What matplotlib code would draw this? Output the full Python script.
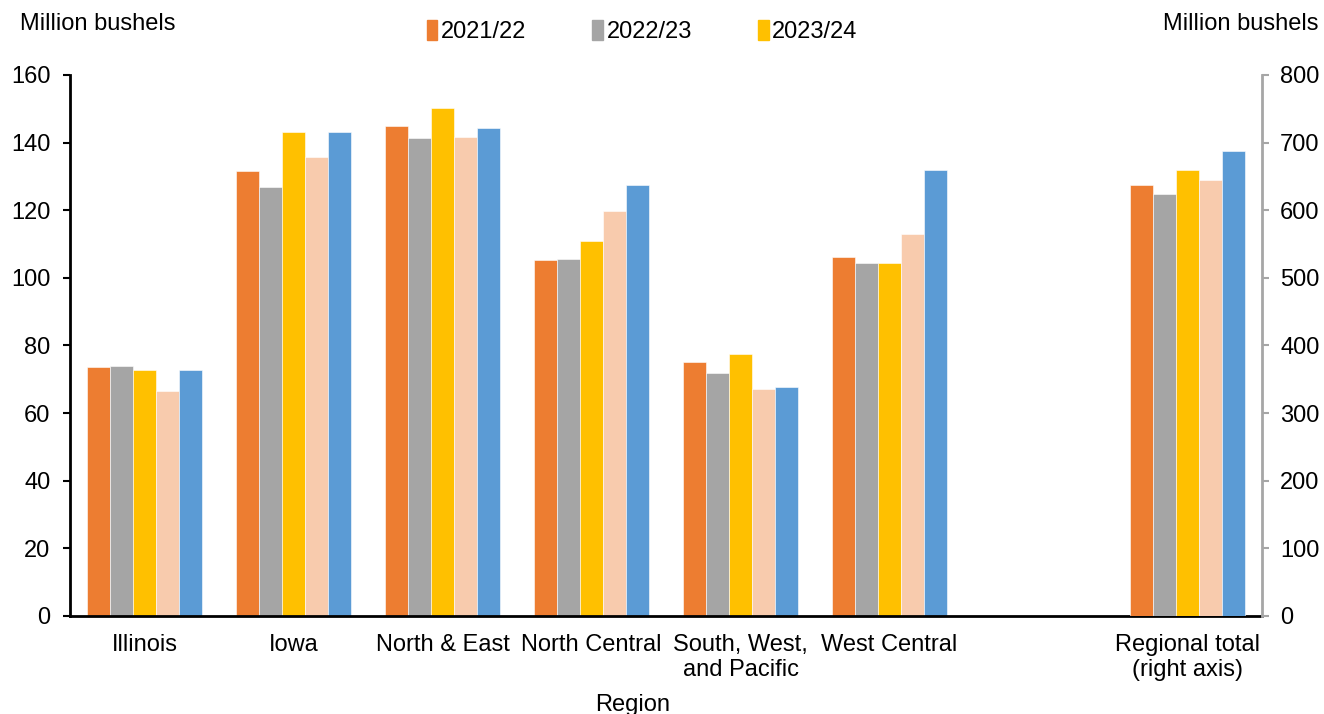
import matplotlib
matplotlib.use('Agg')
import matplotlib.pyplot as plt
from matplotlib.patches import Patch
import numpy as np

plt.rcParams['font.family'] = ['Liberation Sans', 'DejaVu Sans']

# regions on the left axis, regional total on the right axis
regions = ['Illinois', 'Iowa', 'North & East', 'North Central',
           'South, West,\nand Pacific', 'West Central', '', 'Regional total\n(right axis)']
years = ['2021/22', '2022/23', '2023/24', '2024/25', '2025/26']
colors = ['#ED7D31', '#A5A5A5', '#FFC000', '#F8CBAD', '#5B9BD5']

s2122 = [73.7, 131.7, 144.9, 105.4, 75.0, 106.2]
s2223 = [73.9, 126.8, 141.3, 105.6, 72.0, 104.3]
s2324 = [72.8, 143.1, 150.3, 110.9, 77.5, 104.3]
s2425 = [66.5, 135.8, 141.8, 119.7, 67.0, 113.1]
s2526 = [72.7, 143.2, 144.3, 127.4, 67.6, 131.9]
totals = [636.7, 623.6, 658.9, 644.0, 687.1]

series = [s2122, s2223, s2324, s2425, s2526]

fig = plt.figure(figsize=(13.24, 7.14), dpi=100)
ax = fig.add_axes([0.0529, 0.1373, 0.9003, 0.7577])
ax2 = ax.twinx()

w = 0.154
x = np.arange(len(series[0]))
for i, vals in enumerate(series):
    off = (i - 2) * w
    ax.bar(x + off, vals, width=w, color=colors[i], edgecolor='white', linewidth=0.4)
    ax2.bar(7 + off, totals[i], width=w, color=colors[i], edgecolor='white', linewidth=0.4)

ax.set_xlim(-0.5, 7.5)
ax.set_ylim(0, 160)
ax2.set_ylim(0, 800)
ax.set_yticks(np.arange(0, 161, 20))
ax2.set_yticks(np.arange(0, 801, 100))
ax.set_xticks(np.arange(len(regions)))
ax.set_xticklabels(regions)

fs = 17
ax.tick_params(axis='x', length=0, labelsize=fs, pad=13)
ax.tick_params(axis='y', direction='out', length=5, width=1.5, labelsize=fs, pad=9)
ax2.tick_params(axis='y', direction='out', length=5, width=1.5, labelsize=fs, pad=8,
                color='#A6A6A6')

for a in (ax, ax2):
    a.spines['top'].set_visible(False)
ax.spines['right'].set_visible(False)
ax2.spines['left'].set_visible(False)
ax2.spines['bottom'].set_visible(False)
ax.spines['left'].set_linewidth(2)
ax.spines['bottom'].set_linewidth(2)
ax2.spines['right'].set_color('#A6A6A6')
ax2.spines['right'].set_linewidth(2)

fig.text(0.015, 0.967, 'Million bushels', fontsize=fs, ha='left', va='center')
fig.text(0.996, 0.967, 'Million bushels', fontsize=fs, ha='right', va='center')
fig.text(0.478, 0.013, 'Region', fontsize=fs, ha='center', va='center')

handles = [Patch(color=colors[i], label=years[i]) for i in range(3)]
fig.legend(handles=handles, loc='center', bbox_to_anchor=(0.485, 0.956), ncol=3,
           frameon=False, fontsize=fs, handlelength=0.45, handleheight=0.9,
           handletextpad=0.15, columnspacing=2.8)

fig.savefig('out.png', dpi=100)
